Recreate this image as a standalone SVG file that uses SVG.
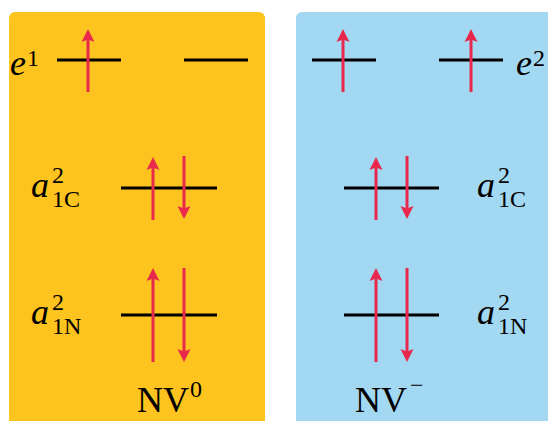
<svg xmlns="http://www.w3.org/2000/svg" width="548" height="421" viewBox="0 0 548 421">
<style>
.lvl{stroke:#000;stroke-width:3.2;fill:none}
.spin{stroke:#E8294E;stroke-width:3;fill:none;marker-end:url(#ah)}
.t{font-family:"Liberation Serif","DejaVu Serif",serif;font-size:36px;fill:#000}
.s{font-family:"Liberation Serif","DejaVu Serif",serif;font-size:24px;fill:#000}
.i{font-style:italic}
</style>
<defs>
<marker id="ah" markerUnits="userSpaceOnUse" markerWidth="16" markerHeight="16" viewBox="0 -8 14 16" refX="7" refY="0" orient="auto">
<path d="M0,-6.5 L13,0 L0,6.5 L2.5,0 z" fill="#E8294E"/>
</marker>
</defs>
<rect width="548" height="421" fill="#fff"/>
<g id="panel-nv0">
<rect x="9" y="12" width="256" height="430" rx="6" fill="#FDC31E"/>
<text class="t" x="137" y="412">NV</text><text class="s" x="190" y="397">0</text>
</g>
<g id="panel-nvminus">
<rect x="296" y="12" width="270" height="430" rx="6" fill="#A2D8F2"/>
<text class="t" x="355" y="412">NV</text><text class="s" x="410" y="393">−</text>
</g>
<g id="nv0-e">
<line class="lvl" x1="57" y1="60" x2="121" y2="60"/>
<line class="lvl" x1="184" y1="60" x2="248" y2="60"/>
<text class="t i" x="10" y="75">e</text><text class="s" x="27" y="66">1</text>
</g>
<g id="nv0-a1c">
<line class="lvl" x1="121" y1="188" x2="217" y2="188"/>
<text class="t i" x="31" y="197">a</text><text class="s" x="52" y="183">2</text><text class="s" x="52" y="207">1C</text>
</g>
<g id="nv0-a1n">
<line class="lvl" x1="121" y1="315" x2="217" y2="315"/>
<text class="t i" x="31" y="324">a</text><text class="s" x="52" y="310">2</text><text class="s" x="52" y="334">1N</text>
</g>
<g id="nvm-e">
<line class="lvl" x1="312" y1="60" x2="376" y2="60"/>
<line class="lvl" x1="439" y1="60" x2="503" y2="60"/>
<text class="t i" x="516" y="75">e</text><text class="s" x="533" y="66">2</text>
</g>
<g id="nvm-a1c">
<line class="lvl" x1="344" y1="188" x2="439" y2="188"/>
<text class="t i" x="477" y="197">a</text><text class="s" x="498" y="183">2</text><text class="s" x="498" y="207">1C</text>
</g>
<g id="nvm-a1n">
<line class="lvl" x1="344" y1="315" x2="439" y2="315"/>
<text class="t i" x="477" y="324">a</text><text class="s" x="498" y="310">2</text><text class="s" x="498" y="334">1N</text>
</g>
<g id="spins">
<line class="spin" x1="88" y1="92" x2="88" y2="35"/>
<line class="spin" x1="343" y1="92" x2="343" y2="35"/>
<line class="spin" x1="471" y1="92" x2="471" y2="35"/>
<line class="spin" x1="153" y1="220" x2="153" y2="163"/>
<line class="spin" x1="184" y1="156" x2="184" y2="213"/>
<line class="spin" x1="376" y1="220" x2="376" y2="163"/>
<line class="spin" x1="407" y1="156" x2="407" y2="213"/>
<line class="spin" x1="153" y1="362" x2="153" y2="274"/>
<line class="spin" x1="184" y1="268" x2="184" y2="356"/>
<line class="spin" x1="376" y1="362" x2="376" y2="274"/>
<line class="spin" x1="407" y1="268" x2="407" y2="356"/>
</g>
</svg>
